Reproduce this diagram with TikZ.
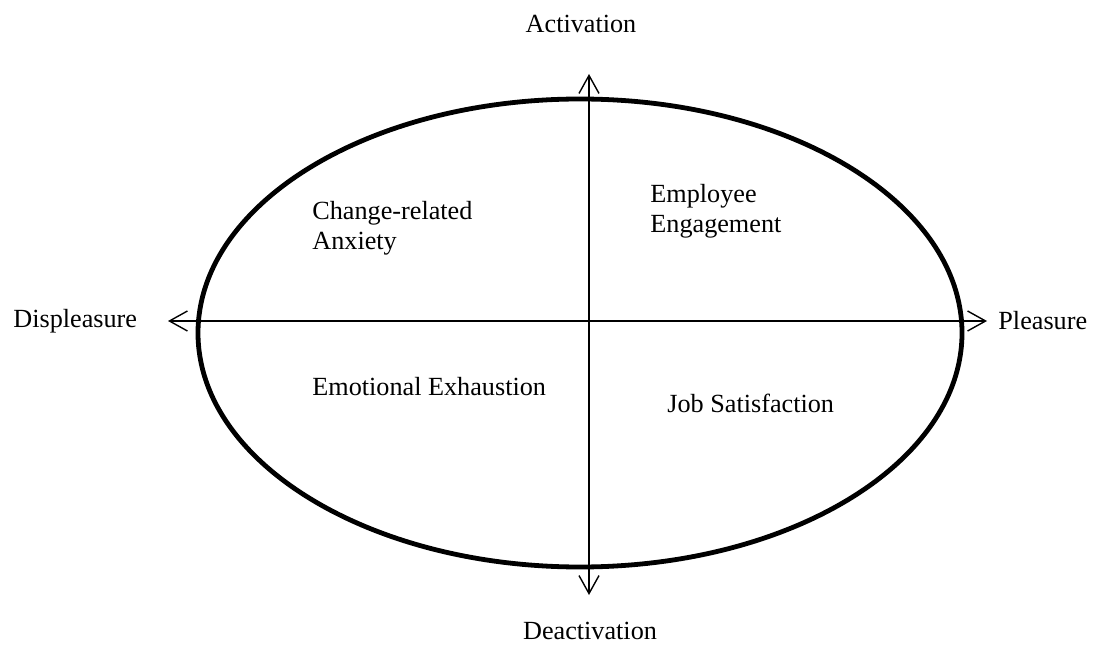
\documentclass[tikz,border=0pt]{standalone}
\usepackage{fontspec}
\setmainfont{Liberation Serif}
\usetikzlibrary{arrows.meta}
\begin{document}
\begin{tikzpicture}[x=0.5pt,y=-0.5pt,
  lbl/.style={inner sep=0pt,font=\fontsize{13.1}{15}\selectfont},
  qlbl/.style={lbl,anchor=west,align=left},
  axis/.style={line width=0.8pt,{Straight Barb[length=9pt,width=10pt,line width=0.7pt]}-{Straight Barb[length=9pt,width=10pt,line width=0.7pt]}},
  rim/.style={line width=2.4pt}]
\useasboundingbox (0,0) rectangle (1095,651);
\draw[rim] (580,333) ellipse [x radius=191pt, y radius=117pt];
\coordinate (L) at (168,321);
\coordinate (R) at (987,321);
\coordinate (T) at (589,74);
\coordinate (B) at (589,595);
\draw[axis] (L) -- (R);
\draw[axis] (B) -- (T);
\node[lbl] (act) at (581,24) {Activation};
\node[lbl] (deact) at (590,631) {Deactivation};
\node[lbl,anchor=west] (displ) at (13,321) {Displeasure};
\node[lbl,anchor=west] (pleas) at (998,321) {Pleasure};
\node[qlbl] (anx) at (312,228) {Change-related\\Anxiety};
\node[qlbl] (eng) at (650,211) {Employee\\Engagement};
\node[qlbl] (exh) at (312,387) {Emotional Exhaustion};
\node[qlbl] (sat) at (667,403) {Job Satisfaction};
\end{tikzpicture}
\end{document}
